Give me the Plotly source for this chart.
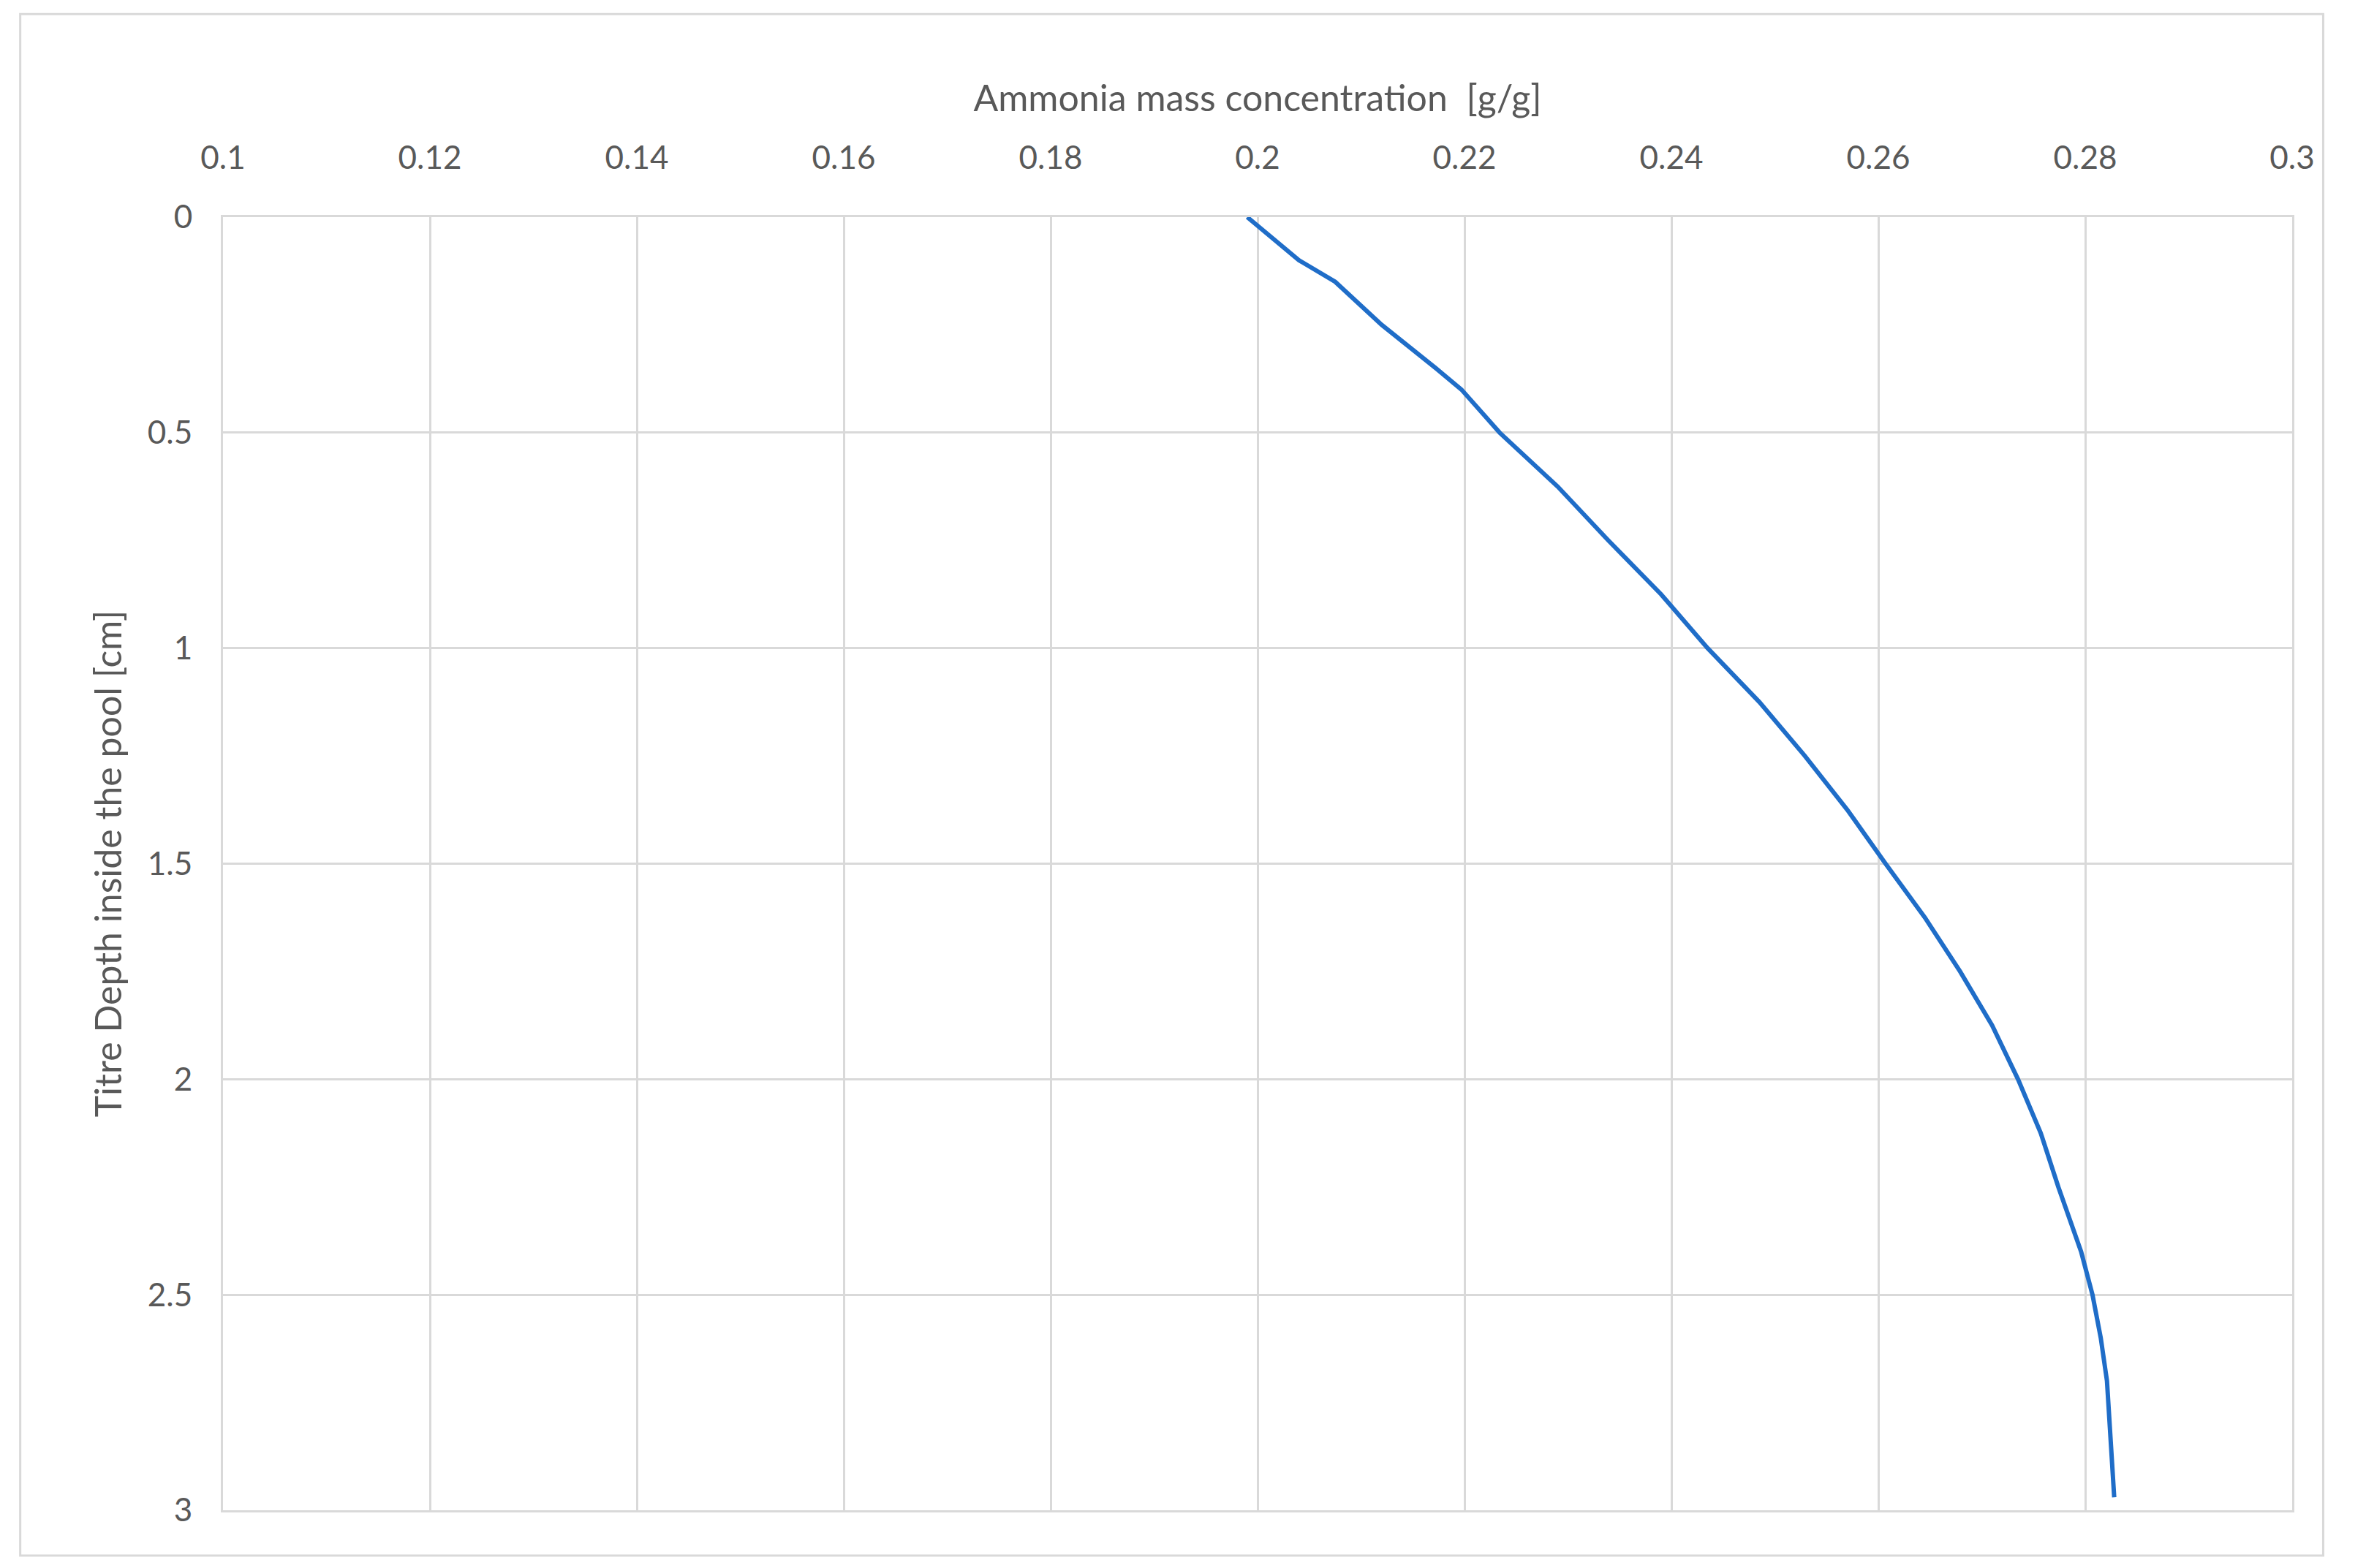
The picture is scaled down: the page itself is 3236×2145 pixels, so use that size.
import plotly.graph_objects as go

conc = [0.1990, 0.2015, 0.2040, 0.2075, 0.2120, 0.2172, 0.2197, 0.2234, 0.2290, 0.2339, 0.2390, 0.2435, 0.2485, 0.2529, 0.2570, 0.2607, 0.2645, 0.2679, 0.2710, 0.2735, 0.2757, 0.2774, 0.2796, 0.2807, 0.2815, 0.2821, 0.2825, 0.2828]
depth = [0.0, 0.05, 0.1, 0.15, 0.25, 0.35, 0.4, 0.5, 0.625, 0.75, 0.875, 1.0, 1.125, 1.25, 1.375, 1.5, 1.625, 1.75, 1.875, 2.0, 2.125, 2.25, 2.4, 2.5, 2.6, 2.7, 2.85, 2.97]

fig = go.Figure(go.Scatter(x=conc, y=depth, mode="lines", line=dict(color="#1F6DC8", width=6), xaxis="x2"))
font = dict(family="Lato, Open Sans, sans-serif", color="#595959", size=44)
grid = dict(showgrid=True, gridcolor="#D9D9D9", gridwidth=3, showline=True, linecolor="#D9D9D9", linewidth=3, mirror=True, zeroline=False, tickfont=font, ticks="")
fig.update_layout(
    width=3236, height=2145, paper_bgcolor="white", plot_bgcolor="white", showlegend=False,
    margin=dict(l=297, r=109, t=289, b=87),
    xaxis2=dict(range=[0.1, 0.3], dtick=0.02, side="top", anchor="y", ticklabelstandoff=45,
                title=dict(text="Ammonia mass concentration  [g/g]", font=dict(font, size=50), standoff=20), **grid),
    yaxis=dict(range=[3, 0], dtick=0.5, ticklabelstandoff=30, title=dict(text="Titre Depth inside the pool [cm]", font=dict(font, size=50), standoff=20), **grid),
    shapes=[dict(type="rect", xref="paper", yref="paper", x0=-0.098, x1=1.015, y0=-0.035, y1=1.157, line=dict(color="#D9D9D9", width=3))],
)
fig.write_html("out.html")
